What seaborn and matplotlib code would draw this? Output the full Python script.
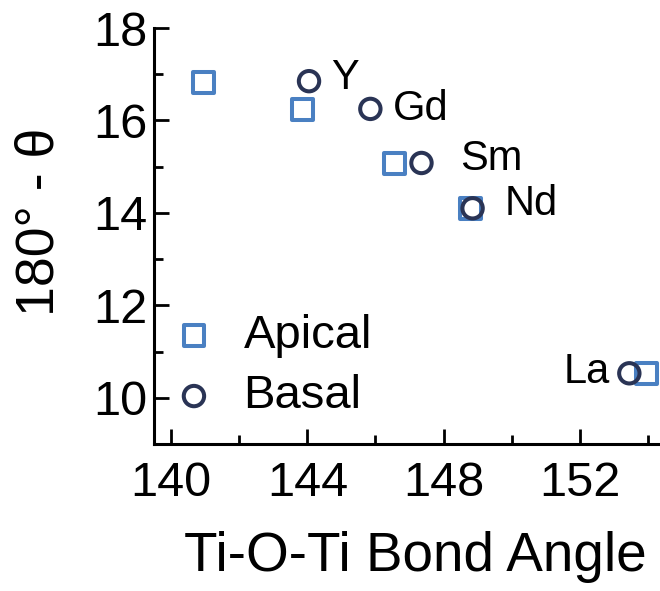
import matplotlib
matplotlib.use("Agg")
import matplotlib.pyplot as plt
from matplotlib.ticker import MultipleLocator
import seaborn as sns
import pandas as pd

# Rare-earth titanates: octahedral tilt (180° - θ) vs Ti-O-Ti bond angle
elements = ["Y", "Gd", "Sm", "Nd", "La"]
apical_angle = [140.95, 143.85, 146.55, 148.8, 153.95]
apical_tilt = [16.82, 16.23, 15.07, 14.1, 10.53]
basal_angle = [144.05, 145.85, 147.35, 148.85, 153.45]
basal_tilt = [16.85, 16.25, 15.08, 14.1, 10.53]

apical = pd.DataFrame({"angle": apical_angle, "tilt": apical_tilt, "element": elements})
basal = pd.DataFrame({"angle": basal_angle, "tilt": basal_tilt, "element": elements})

sns.set_theme(style="ticks")
plt.rcParams["font.family"] = ["Liberation Sans", "DejaVu Sans"]
plt.rcParams["text.color"] = "black"
plt.rcParams["axes.labelcolor"] = "black"

APICAL_COLOR = "#4a80c2"
BASAL_COLOR = "#2a3455"

fig = plt.figure(figsize=(6.6, 5.91), dpi=100)
ax = fig.add_axes([0.2333, 0.2487, 0.7667, 0.7039])

sns.scatterplot(data=apical, x="angle", y="tilt", ax=ax, marker="s", s=225,
                facecolor="none", edgecolor=APICAL_COLOR, linewidth=2.9,
                label="Apical", zorder=3)
sns.scatterplot(data=basal, x="angle", y="tilt", ax=ax, marker="o", s=215,
                facecolor="none", edgecolor=BASAL_COLOR, linewidth=2.9,
                label="Basal", zorder=4)

# element labels next to the basal points
label_offsets = {"Y": (16, 2), "Gd": (16, 0), "Sm": (28, 3), "Nd": (23, 3), "La": (-14, 1)}
for _, row in basal.iterrows():
    dx, dy = label_offsets[row["element"]]
    ax.annotate(row["element"], (row["angle"], row["tilt"]),
                xytext=(dx, dy), textcoords="offset points",
                ha="left" if dx > 0 else "right", va="center",
                fontsize=30, color="black")

ax.set_xlim(139.5, 154.35)
ax.set_ylim(9, 18)
ax.xaxis.set_major_locator(MultipleLocator(4))
ax.xaxis.set_minor_locator(MultipleLocator(2))
ax.yaxis.set_major_locator(MultipleLocator(2))
ax.yaxis.set_minor_locator(MultipleLocator(1))

ax.tick_params(which="both", direction="in", width=2, color="black",
               labelsize=35, labelcolor="black")
ax.tick_params(which="major", length=11)
ax.tick_params(which="minor", length=6.5)
ax.tick_params(axis="x", pad=12)
ax.tick_params(axis="y", pad=5)

for side in ["top", "right"]:
    ax.spines[side].set_visible(False)
for side in ["left", "bottom"]:
    ax.spines[side].set_linewidth(2.2)
    ax.spines[side].set_color("black")

ax.set_xlabel("Ti-O-Ti Bond Angle", fontsize=39.5, labelpad=18.5, color="black")
ax.xaxis.label.set_x(0.516)
ax.set_ylabel("180° - θ", fontsize=38.5, labelpad=20.5, color="black")
ax.yaxis.label.set_y(0.534)

leg = ax.legend(loc="lower left", bbox_to_anchor=(-0.033, -0.018), frameon=False,
                fontsize=34, handletextpad=0.55, labelspacing=0.35,
                borderaxespad=0.3, handlelength=1.0)
for txt in leg.get_texts():
    txt.set_color("black")

fig.savefig("out.png", dpi=100)
